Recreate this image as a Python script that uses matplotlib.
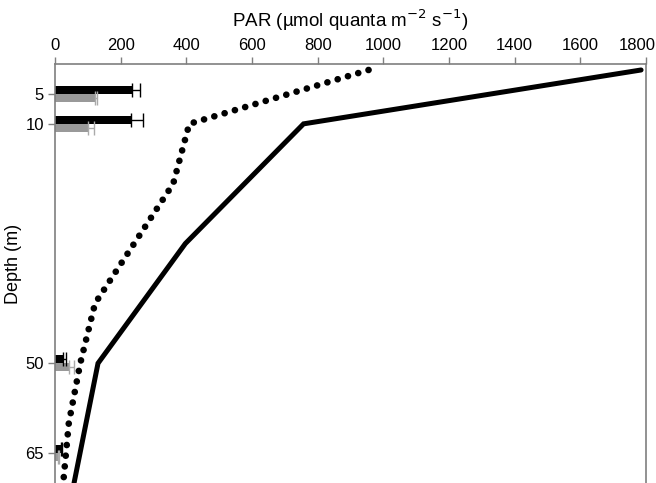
import numpy as np
import matplotlib
matplotlib.use("Agg")
import matplotlib.pyplot as plt
from matplotlib.transforms import ScaledTranslation

plt.rcParams["font.family"] = ["Liberation Sans", "DejaVu Sans"]

# PAR profiles (depth in m, PAR in umol quanta m-2 s-1)
solid_depth = [1, 10, 30, 50, 70]
solid_par = [1785, 757, 397, 131, 58]
dotted_depth = [1, 10, 20, 40, 50, 60, 70]
dotted_par = [955, 409, 360, 122, 77, 42, 25]

# bars at sampled depths
bar_depths = [5, 10, 50, 65]
black_vals = [236, 232, 25, 18]
black_err = [23, 35, 8, 4]
grey_vals = [122, 100, 44, 10]
grey_err = [6, 18, 14, 3]

AXIS_GREY = "#7f7f7f"

fig = plt.figure(figsize=(6.56, 4.83), dpi=100)
ax = fig.add_axes([55 / 656, 0.0, 591 / 656, 1 - 64 / 483])

bh = 1.35
y = np.array(bar_depths, dtype=float)
ax.barh(y - bh / 2, black_vals, height=bh, color="black", zorder=2)
ax.barh(y + bh / 2, grey_vals, height=bh, color="#999999", zorder=2)
ax.errorbar(black_vals, y - bh / 2, xerr=[np.zeros(len(y)), black_err],
            fmt="none", ecolor="black", elinewidth=1, capsize=5, capthick=1, zorder=3)
ax.errorbar(grey_vals, y + bh / 2, xerr=[np.zeros(len(y)), grey_err],
            fmt="none", ecolor="#aaaaaa", elinewidth=1, capsize=5, capthick=1, zorder=3)

ax.plot(solid_par, solid_depth, color="black", lw=3.6,
        solid_capstyle="round", solid_joinstyle="miter", zorder=4)
ax.plot(dotted_par, dotted_depth, color="black", lw=4.8,
        linestyle=(0, (0.01, 1.6)), dash_capstyle="round", zorder=4)

ax.set_xlim(0, 1800)
ax.set_ylim(70, 0)
ax.xaxis.tick_top()
ax.xaxis.set_label_position("top")
ax.set_xticks(np.arange(0, 1801, 200))
ax.set_yticks(bar_depths)
ax.tick_params(axis="both", labelsize=12, color=AXIS_GREY, length=5, width=1, pad=3)
# nudge the last x label left so it stays inside the figure
last = ax.get_xticklabels()[-1]
last.set_transform(last.get_transform() + ScaledTranslation(-9 / 100, 0, fig.dpi_scale_trans))
ax.set_xlabel("PAR (\u00b5mol quanta m$^{\u22122}$ s$^{\u22121}$)", fontsize=13.5, labelpad=8)
ax.set_ylabel("Depth (m)", fontsize=13)
ax.yaxis.set_label_coords(-0.056, 1 - (264 - 64) / 419)

for side in ("top", "left", "right"):
    ax.spines[side].set_color(AXIS_GREY)
    ax.spines[side].set_linewidth(1.2)
ax.spines["bottom"].set_visible(False)

fig.savefig("out.png", dpi=100)
